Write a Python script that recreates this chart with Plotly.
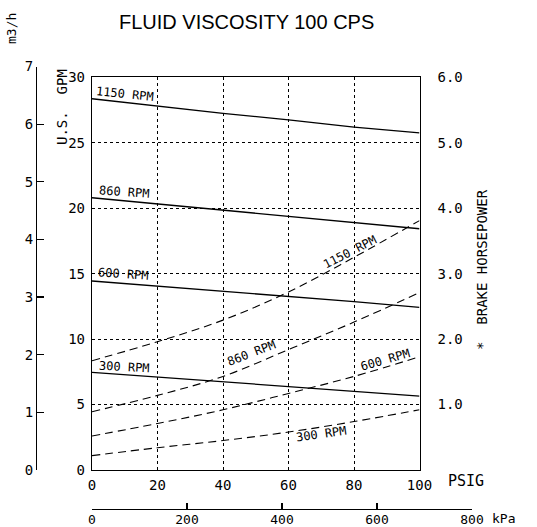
import plotly.graph_objects as go

# ---------------- data ----------------
psi = [0, 20, 40, 60, 80, 100]

gpm_1150 = [28.36, 27.80, 27.25, 26.74, 26.20, 25.75]
gpm_860 = [20.80, 20.33, 19.86, 19.37, 18.90, 18.43]
gpm_600 = [14.44, 14.05, 13.67, 13.24, 12.86, 12.43]
gpm_300 = [7.46, 7.10, 6.75, 6.42, 6.06, 5.65]

hp_1150 = [1.67, 1.96, 2.29, 2.72, 3.25, 3.81]
hp_860 = [0.89, 1.14, 1.43, 1.84, 2.26, 2.71]
hp_600 = [0.52, 0.71, 0.92, 1.17, 1.43, 1.73]
hp_300 = [0.22, 0.34, 0.45, 0.58, 0.74, 0.92]

gpm_ticks = [0, 5, 10, 15, 20, 25, 30]
hp_ticks = [1, 2, 3, 4, 5, 6]
hp_labels = ["1.0", "2.0", "3.0", "4.0", "5.0", "6.0"]
psi_ticks = [0, 20, 40, 60, 80, 100]
kpa_ticks = [0, 200, 400, 600, 800]
m3h_ticks = [0, 1, 2, 3, 4, 5, 6, 7]

GPM_PER_M3H = 4.40287
KPA_PER_PSI = 6.89476

title = "FLUID VISCOSITY 100 CPS"

# ---------------- geometry helpers (pixels -> paper) ----------------
W, H = 537, 527
def px(x):
    return x / W
def py(y):
    return 1 - y / H

X0, X1 = 92, 419.5      # psi 0 .. 100
Y0, Y1 = 470, 77.3      # gpm 0 .. 30
gpm_px = (Y0 - Y1) / 30.0
m3h_top = Y0 - 7 * GPM_PER_M3H * gpm_px
kpa_right = X0 + 800 / (100 * KPA_PER_PSI) * (X1 - X0)

MONO = "DejaVu Sans Mono"
fig = go.Figure()

solid = dict(color="black", width=1.3)
dashed = dict(color="black", width=1.1, dash="8px,5px", shape="spline")

for g in (gpm_1150, gpm_860, gpm_600, gpm_300):
    fig.add_trace(go.Scatter(x=psi, y=g, mode="lines", line=solid,
                             xaxis="x", yaxis="y", showlegend=False, hoverinfo="skip"))
for h in (hp_1150, hp_860, hp_600, hp_300):
    fig.add_trace(go.Scatter(x=psi, y=h, mode="lines", line=dashed,
                             xaxis="x", yaxis="y3", showlegend=False, hoverinfo="skip"))

# invisible trace so the auxiliary axes are drawn
fig.add_trace(go.Scatter(x=[kpa_ticks[0]], y=[m3h_ticks[0]], mode="markers",
                         marker=dict(opacity=0), xaxis="x2", yaxis="y4",
                         showlegend=False, hoverinfo="skip"))

axis_font = dict(family=MONO, size=14, color="black")

fig.update_layout(
    template="none",
    width=W, height=H, hovermode=False, showlegend=False,
    margin=dict(l=0, r=0, t=0, b=0, pad=0, autoexpand=False),
    paper_bgcolor="white", plot_bgcolor="rgba(0,0,0,0)",
    xaxis=dict(domain=[px(X0), px(X1)], range=[0, 100], anchor="y", automargin=False,
               tickvals=psi_ticks, ticktext=[str(v) for v in psi_ticks],
               ticks="", showline=True, mirror=True, linecolor="black", linewidth=1.2,
               showgrid=True, gridcolor="black", gridwidth=1, griddash="dot",
               zeroline=False, tickfont=axis_font, ticklabelstandoff=2),
    yaxis=dict(domain=[py(Y0), py(Y1)], range=[0, 30], anchor="x", automargin=False,
               tickvals=gpm_ticks, ticks="", showline=True, mirror=True,
               linecolor="black", linewidth=1.2,
               showgrid=True, gridcolor="black", gridwidth=1, griddash="dot",
               zeroline=False, tickfont=axis_font, ticklabelstandoff=3),
    yaxis3=dict(overlaying="y", side="right", anchor="x", range=[0, 6], automargin=False,
                tickvals=hp_ticks, ticktext=hp_labels, ticks="",
                showline=False, showgrid=False, zeroline=False,
                tickfont=axis_font, ticklabelstandoff=17),
    xaxis2=dict(domain=[px(X0), px(kpa_right)], range=[0, 800], anchor="free",
                position=py(509), side="bottom", tickvals=kpa_ticks, automargin=False,
                ticks="inside", ticklen=6, tickcolor="black", tickwidth=1.2,
                showline=True, linecolor="black", linewidth=1.2,
                showgrid=False, zeroline=False,
                tickfont=dict(family=MONO, size=13, color="black"),
                ticklabelstandoff=-2),
    yaxis4=dict(domain=[py(Y0), py(m3h_top)], range=[0, 7], anchor="free",
                position=px(36), side="left", tickvals=m3h_ticks, automargin=False,
                ticks="inside", ticklen=7, tickcolor="black", tickwidth=1.2,
                showline=True, linecolor="black", linewidth=1.2,
                showgrid=False, zeroline=False, tickfont=axis_font),
)

ann = []
def add_text(x, y, text, size=12, angle=0, xref="x", yref="y", family=MONO, xanchor="center"):
    ann.append(dict(x=x, y=y, xref=xref, yref=yref, text=text, showarrow=False,
                    textangle=angle, xanchor=xanchor, yanchor="middle",
                    font=dict(family=family, size=size, color="black")))

# title & axis titles
add_text(px(246), py(22), title, size=20, xref="paper", yref="paper",
         family="Liberation Sans")
add_text(px(11), py(29), "m3/h", size=13, angle=-90, xref="paper", yref="paper")
add_text(px(62), py(107), "U.S.  GPM", size=14, angle=-90, xref="paper", yref="paper")
add_text(px(482), py(270), "*  BRAKE HORSEPOWER", size=14, angle=-90,
         xref="paper", yref="paper")
add_text(px(446), py(481), "PSIG", size=15, xref="paper", yref="paper", xanchor="left")
add_text(px(490), py(518), "kPa", size=13, xref="paper", yref="paper", xanchor="left")

# curve labels (solid = capacity)
add_text(10.1, 28.75, "1150 RPM", angle=6)
add_text(9.8, 21.25, "860 RPM", angle=4)
add_text(9.6, 14.95, "600 RPM", angle=4)
add_text(9.8, 7.9, "300 RPM", angle=3)
# curve labels (dashed = horsepower, positioned on HP scale)
add_text(78.8, 3.33, "1150 RPM", angle=-27, yref="y3")
add_text(48.8, 1.79, "860 RPM", angle=-21, yref="y3")
add_text(89.5, 1.68, "600 RPM", angle=-16, yref="y3")
add_text(70.2, 0.55, "300 RPM", angle=-8, yref="y3")

fig.update_layout(annotations=ann)
fig.write_html("out.html", config=dict(displayModeBar=False, staticPlot=True),
               post_script="document.body.style.margin='0';document.body.style.overflow='hidden';")
